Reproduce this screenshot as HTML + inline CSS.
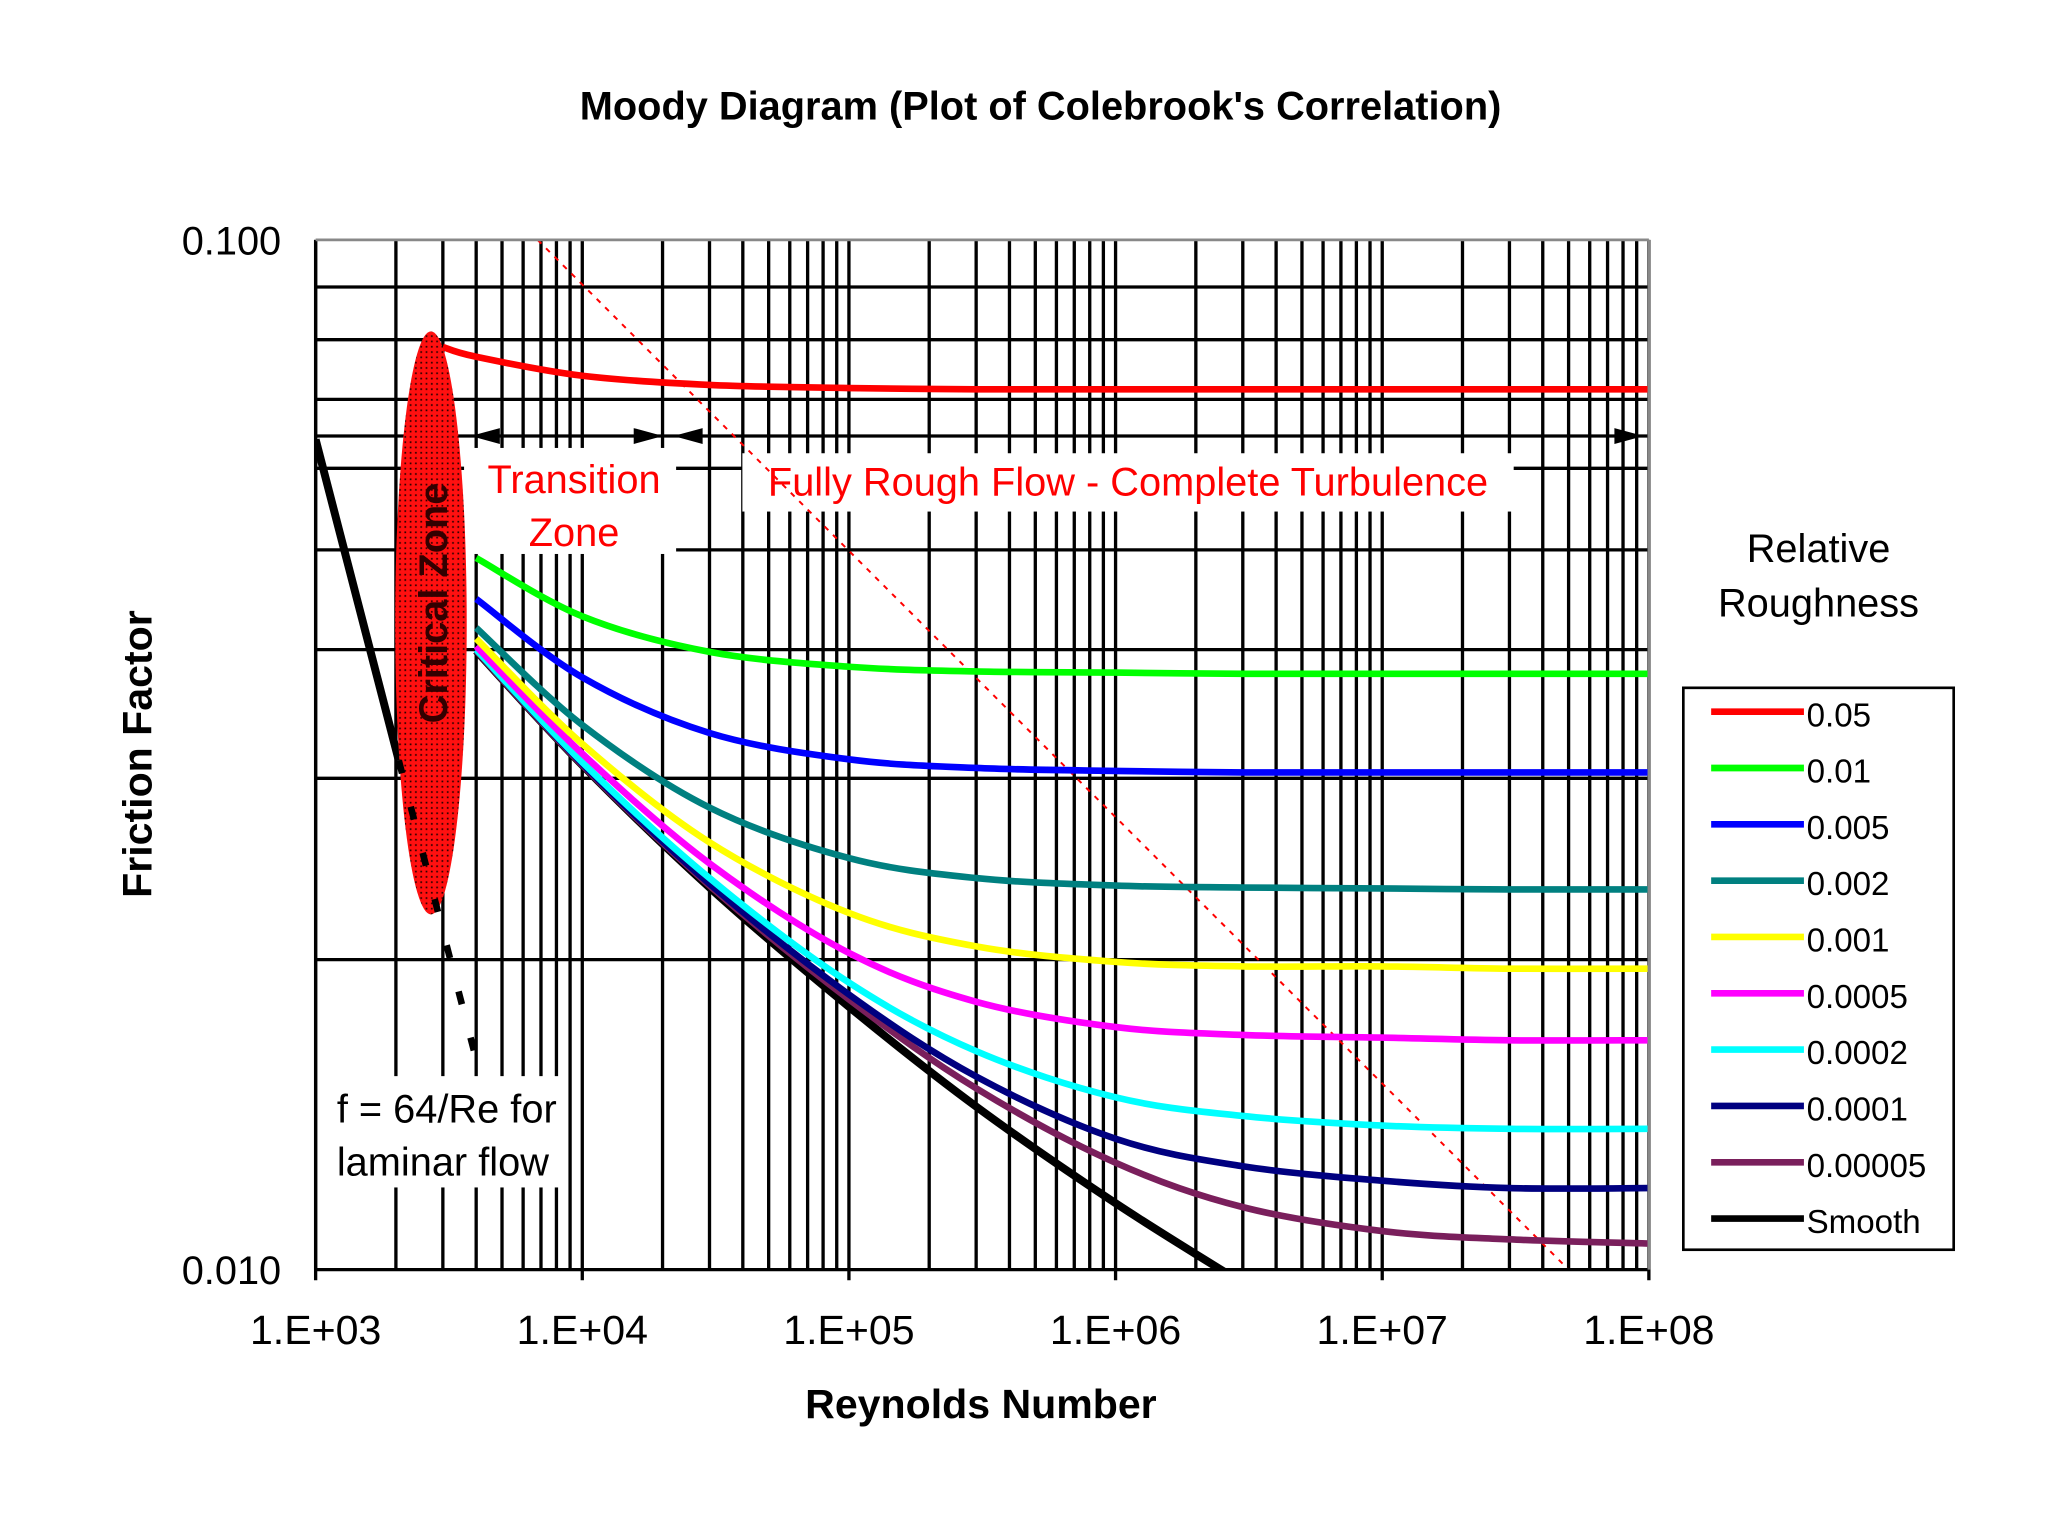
<!DOCTYPE html>
<html><head><meta charset="utf-8"><style>
html,body{margin:0;padding:0;background:#fff;}
svg{display:block;}
text{font-family:"Liberation Sans",sans-serif;}
</style></head><body>
<svg id="chart" width="2048" height="1536" viewBox="0 0 1545 1159" xmlns="http://www.w3.org/2000/svg">
<defs>
<pattern id="dots" width="4" height="4" patternUnits="userSpaceOnUse">
<rect width="4" height="4" fill="#ff1010"/><rect x="1" y="1" width="1.3" height="1.3" fill="#300"/>
</pattern>
<clipPath id="plotclip"><rect x="238" y="181" width="1006" height="777"/></clipPath>
</defs>
<rect width="1545" height="1159" fill="#fff"/>
<text x="785" y="90" text-anchor="middle" font-size="30" font-weight="bold">Moody Diagram (Plot of Colebrook's Correlation)</text>
<g id="grid"></g>
<g id="boxes">
<rect x="350" y="338" width="160" height="80" fill="#fff"/>
<rect x="560" y="342" width="582" height="44" fill="#fff"/>
<rect x="245" y="812" width="180" height="84" fill="#fff"/>
</g>
<g id="series" clip-path="url(#plotclip)"></g>
<g id="annot"></g>
<line x1="238" y1="958" x2="1244" y2="958" stroke="#000" stroke-width="2.5"/>
<line x1="238" y1="181" x2="238" y2="958" stroke="#000" stroke-width="2.5"/>
<line x1="238" y1="181" x2="1244" y2="181" stroke="#888" stroke-width="2"/>
<line x1="1244" y1="181" x2="1244" y2="958" stroke="#888" stroke-width="2"/>
<text x="212" y="192" text-anchor="end" font-size="30">0.100</text>
<text x="212" y="969" text-anchor="end" font-size="30">0.010</text>
<g id="xticks"></g>
<text transform="translate(114,569) rotate(-90)" text-anchor="middle" font-size="31" font-weight="bold">Friction Factor</text>
<text x="740" y="1070" text-anchor="middle" font-size="31" font-weight="bold">Reynolds Number</text>
<text x="433" y="372" text-anchor="middle" font-size="30" fill="#f00">Transition</text>
<text x="433" y="412" text-anchor="middle" font-size="30" fill="#f00">Zone</text>
<text x="851" y="374" text-anchor="middle" font-size="30" fill="#f00">Fully Rough Flow - Complete Turbulence</text>
<text x="254" y="847" font-size="30">f = 64/Re for</text>
<text x="254" y="887" font-size="30">laminar flow</text>
<text x="1372" y="424" text-anchor="middle" font-size="30">Relative</text>
<text x="1372" y="465" text-anchor="middle" font-size="30">Roughness</text>
<rect x="1270" y="519" width="204" height="424" fill="#fff" stroke="#000" stroke-width="2"/>
<g id="legend"></g>
</svg>
<script>
const reynolds = [3000, 4000, 1e4, 3e4, 1e5, 3e5, 1e6, 3e6, 1e7, 3e7, 1e8];
const roughnessLabels = ["0.05","0.01","0.005","0.002","0.001","0.0005","0.0002","0.0001","0.00005","Smooth"];
const seriesColors = ["#ff0000","#00ff00","#0000ff","#008080","#ffff00","#ff00ff","#00ffff","#000080","#7a1f5c","#000000"];
const f_005 = [0.0787,0.0770,0.0738,0.0723,0.0718,0.0716,0.0716,0.0716,0.0716,0.0716,0.0716];
const f_001 = [null,0.0491,0.0431,0.0398,0.0385,0.0381,0.0380,0.0379,0.0379,0.0379,0.0379];
const f_0005 = [null,0.0448,0.0376,0.0332,0.0313,0.0307,0.0305,0.0304,0.0304,0.0304,0.0304];
const f_0002 = [null,0.0420,0.0338,0.0281,0.0251,0.0240,0.0236,0.0235,0.02345,0.0234,0.0234];
const f_0001 = [null,0.0410,0.0324,0.0260,0.0222,0.0206,0.0199,0.0197,0.0197,0.0196,0.0196];
const f_00005 = [null,0.0403,0.0317,0.0248,0.0203,0.0182,0.0172,0.0169,0.0168,0.0167,0.0167];
const f_00002 = [null,0.0400,0.0311,0.0240,0.0190,0.0163,0.0147,0.0141,0.0138,0.0137,0.0137];
const f_00001 = [null,0.0400,0.0310,0.0237,0.0185,0.0154,0.0134,0.0126,0.0122,0.0120,0.0120];
const f_000005 = [null,0.0399,0.0309,0.0236,0.0183,0.0150,0.0127,0.0115,0.0109,0.0107,0.0106];
const f_smooth = [null,0.0399,0.0309,0.0235,0.0180,0.0144,0.0116,0.0097,null,null,null];
const seriesValues = [f_005,f_001,f_0005,f_0002,f_0001,f_00005,f_00002,f_00001,f_000005,f_smooth];
const xTickValues = [1e3,1e4,1e5,1e6,1e7,1e8];
const xTickLabels = ["1.E+03","1.E+04","1.E+05","1.E+06","1.E+07","1.E+08"];
const yGridValues = [0.02,0.03,0.04,0.05,0.06,0.07,0.08,0.09];
const roughBoundaryRe = [6800, 5e7];
const roughBoundaryF = [0.1, 0.01];
const laminarRe = [1000, 2050];
const laminarDashRe = [2050, 4000];

const NS="http://www.w3.org/2000/svg";
const X0=238, X1=1244, Y0=181, Y1=958;
function xs(re){return X0+(Math.log10(re)-3)*(X1-X0)/5;}
function ys(f){return Y0+(-1-Math.log10(f))*(Y1-Y0);}
function mk(tag,attrs,parent){const e=document.createElementNS(NS,tag);for(const k in attrs)e.setAttribute(k,attrs[k]);parent.appendChild(e);return e;}

const grid=document.getElementById('grid');
for(let d=3; d<8; d++){
  for(let m=2;m<=9;m++){
    const l=mk('line',{x1:xs(m*Math.pow(10,d)),x2:xs(m*Math.pow(10,d)),y1:Y0,y2:Y1,stroke:'#000','stroke-width':2.5},grid);
    
    
  }
}
xTickValues.forEach(v=>{
  const l=mk('line',{x1:xs(v),x2:xs(v),y1:Y0,y2:Y1+8,stroke:'#000','stroke-width':2.5},grid);
  
  
});
yGridValues.forEach(v=>{
  const l=mk('line',{x1:X0,x2:X1,y1:ys(v),y2:ys(v),stroke:'#000','stroke-width':2.5},grid);
  
  
});
const arrowLine=mk('line',{x1:X0,x2:X1,y1:329,y2:329,stroke:'#000','stroke-width':2.5},grid);



const xt=document.getElementById('xticks');
xTickValues.forEach((v,i)=>{
  const t=mk('text',{x:xs(v),y:1014,'text-anchor':'middle','font-size':31},xt);
  t.textContent=xTickLabels[i];
  
  
});

function smoothPath(pts){
  let d='M'+pts[0][0]+','+pts[0][1];
  for(let i=0;i<pts.length-1;i++){
    const p0=pts[i-1]||pts[i],p1=pts[i],p2=pts[i+1],p3=pts[i+2]||p2;
    const c1x=p1[0]+(p2[0]-p0[0])/6,c1y=p1[1]+(p2[1]-p0[1])/6;
    const c2x=p2[0]-(p3[0]-p1[0])/6,c2y=p2[1]-(p3[1]-p1[1])/6;
    d+=' C'+c1x+','+c1y+' '+c2x+','+c2y+' '+p2[0]+','+p2[1];
  }
  return d;
}
const sg=document.getElementById('series');
const rb=mk('line',{x1:xs(roughBoundaryRe[0]),y1:ys(roughBoundaryF[0]),x2:xs(roughBoundaryRe[1]),y2:ys(roughBoundaryF[1]),stroke:'#f00','stroke-width':1.5,'stroke-dasharray':'4 5'},sg);


for(let s=seriesValues.length-1;s>=0;s--){
  const pts=[];
  seriesValues[s].forEach((f,i)=>{if(f!==null)pts.push([xs(reynolds[i]),ys(f)]);});
  const p=mk('path',{d:smoothPath(pts),fill:'none',stroke:seriesColors[s],'stroke-width':s===9?6:5,'stroke-linejoin':'round'},sg);
  
  
}
const lam=mk('line',{x1:xs(laminarRe[0]),y1:ys(64/laminarRe[0]),x2:xs(laminarRe[1]),y2:ys(64/laminarRe[1]),stroke:'#000','stroke-width':6},sg);



const an=document.getElementById('annot');
const ell=mk('ellipse',{cx:325,cy:470,rx:27,ry:220,fill:'url(#dots)'},an);


const lamd=mk('line',{x1:xs(laminarDashRe[0]),y1:ys(64/laminarDashRe[0]),x2:xs(laminarDashRe[1]),y2:ys(64/laminarDashRe[1]),stroke:'#000','stroke-width':5,'stroke-dasharray':'10 26'},an);


const ct=mk('text',{transform:'translate(337,455) rotate(-90)','text-anchor':'middle','font-size':30,'font-weight':'bold',fill:'#300'},an);
ct.textContent='Critical Zone';


[[355,1],[500,-1],[508,1],[1240,-1]].forEach(a=>{
  const x=a[0],d=a[1];
  const p=mk('polygon',{points:x+',329 '+(x+d*22)+',323 '+(x+d*22)+',335',fill:'#000'},an);
  
  
});

const lg=document.getElementById('legend');
roughnessLabels.forEach((lab,i)=>{
  const y=537+i*42.5;
  const l=mk('line',{x1:1291,x2:1361,y1:y,y2:y,stroke:seriesColors[i],'stroke-width':5},lg);
  
  
  const t=mk('text',{x:1363,y:y+11,'font-size':25},lg);
  t.textContent=lab;
  
  
});
</script>
</body></html>
